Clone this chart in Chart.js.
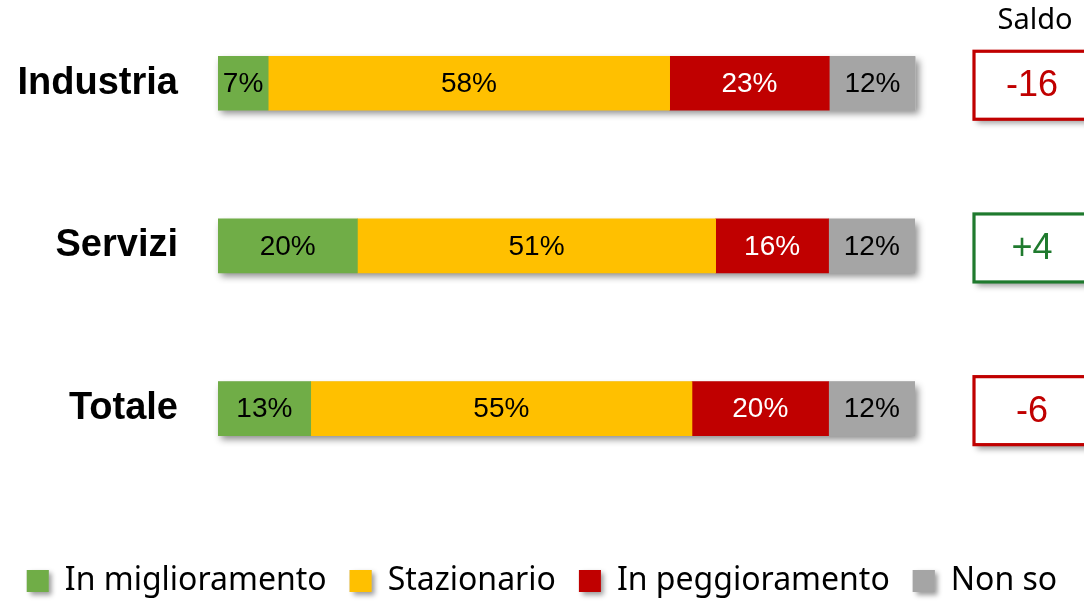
<!DOCTYPE html>
<html>
<head>
<meta charset="utf-8">
<script src="https://cdn.jsdelivr.net/npm/chart.js@4"></script>
<style>
html,body{margin:0;padding:0;background:#fff;}
#wrap{width:1084px;height:603px;position:relative;}
</style>
</head>
<body>
<div id="wrap"><canvas id="c"></canvas></div>
<script>
const categories = ['Industria', 'Servizi', 'Totale'];
const seriesNames = ['In miglioramento', 'Stazionario', 'In peggioramento', 'Non so'];
// segment lengths (percent)
const miglioramento = [7.2, 20.0, 13.3];
const stazionario = [57.6, 51.4, 54.7];
const peggioramento = [22.9, 16.2, 19.6];
const nonSo = [12.4, 12.4, 12.4];
// printed data labels
const miglioramentoLabels = ['7%', '20%', '13%'];
const stazionarioLabels = ['58%', '51%', '55%'];
const peggioramentoLabels = ['23%', '16%', '20%'];
const nonSoLabels = ['12%', '12%', '12%'];
const saldo = [-16, 4, -6];
const saldoTitle = 'Saldo';

const seriesColors = ['#70AD47', '#FFC000', '#C00000', '#A5A5A5'];
const labelColors = ['#000000', '#000000', '#FFFFFF', '#000000'];
const seriesValues = [miglioramento, stazionario, peggioramento, nonSo];
const seriesLabels = [miglioramentoLabels, stazionarioLabels, peggioramentoLabels, nonSoLabels];

const datasets = seriesNames.map((name, i) => ({
  label: name,
  data: seriesValues[i],
  valueLabels: seriesLabels[i],
  backgroundColor: seriesColors[i],
  borderWidth: 0,
  barThickness: 54,
  labelColor: labelColors[i]
}));

const LEGEND_CENTER = 581;
const AREA_BOTTOM = 490;

const barShadow = {
  id: 'barShadow',
  beforeDatasetsDraw(chart) {
    const ctx = chart.ctx;
    const first = chart.getDatasetMeta(0).data;
    const last = chart.getDatasetMeta(chart.data.datasets.length - 1).data;
    ctx.save();
    ctx.shadowColor = 'rgba(0,0,0,0.45)';
    ctx.shadowBlur = 7;
    ctx.shadowOffsetX = 3;
    ctx.shadowOffsetY = 4;
    ctx.fillStyle = '#bbbbbb';
    first.forEach((b, j) => {
      const l = last[j];
      ctx.fillRect(b.base, b.y - b.height / 2, l.x - b.base, b.height);
    });
    ctx.restore();
  }
};

const dataLabels = {
  id: 'dataLabels',
  afterDatasetsDraw(chart) {
    const ctx = chart.ctx;
    ctx.save();
    ctx.font = '28px "Liberation Sans", Arial, sans-serif';
    ctx.textAlign = 'center';
    ctx.textBaseline = 'middle';
    chart.data.datasets.forEach((ds, i) => {
      chart.getDatasetMeta(i).data.forEach((bar, j) => {
        ctx.fillStyle = ds.labelColor;
        ctx.fillText(ds.valueLabels[j], (bar.x + bar.base) / 2, bar.y + 1);
      });
    });
    ctx.restore();
  }
};

const saldoBoxes = {
  id: 'saldoBoxes',
  afterDraw(chart) {
    const ctx = chart.ctx;
    const ca = chart.chartArea;
    const yScale = chart.scales.y;
    const bx = ca.right + 59;
    const cx = ca.right + 117;
    ctx.save();
    ctx.font = '29px "Noto Sans", sans-serif';
    ctx.fillStyle = '#000';
    ctx.textAlign = 'center';
    ctx.textBaseline = 'middle';
    ctx.fillText(saldoTitle, ca.right + 120, 21);
    categories.forEach((c, j) => {
      const y = yScale.getPixelForValue(j) + 2;
      const v = saldo[j];
      const col = v >= 0 ? '#1F7A2E' : '#C00000';
      const h = 68;
      ctx.save();
      ctx.shadowColor = 'rgba(0,0,0,0.4)';
      ctx.shadowBlur = 6;
      ctx.shadowOffsetX = 3;
      ctx.shadowOffsetY = 4;
      ctx.fillStyle = '#fff';
      ctx.fillRect(bx, y - h / 2, 160, h);
      ctx.restore();
      ctx.strokeStyle = col;
      ctx.lineWidth = 3.2;
      ctx.strokeRect(bx, y - h / 2, 160, h);
      ctx.fillStyle = col;
      ctx.font = '36px "Liberation Sans", Arial, sans-serif';
      ctx.fillText((v > 0 ? '+' : '') + v, cx, y + 1);
    });
    ctx.restore();
  }
};

const legendShift = {
  id: 'legendShift',
  afterLayout(chart) {
    const lg = chart.legend;
    if (lg) {
      const p = lg.options.labels.padding;
      const fs = lg.options.labels.font.size;
      const delta = LEGEND_CENTER - (lg.top + p + fs / 2);
      lg.top += delta;
      lg.bottom += delta;
    }
  },
  beforeDraw(chart) {
    const lg = chart.legend;
    if (!lg || !lg.legendHitBoxes) return;
    const lo = lg.options.labels;
    const ctx = chart.ctx;
    ctx.save();
    ctx.shadowColor = 'rgba(0,0,0,0.4)';
    ctx.shadowBlur = 5;
    ctx.shadowOffsetX = 3;
    ctx.shadowOffsetY = 3;
    ctx.fillStyle = '#bbb';
    lg.legendHitBoxes.forEach(hb => {
      const top = hb.top + Math.max((lo.font.size - lo.boxHeight) / 2, 0);
      ctx.fillRect(hb.left, top, lo.boxWidth, lo.boxHeight);
    });
    ctx.restore();
  }
};

new Chart(document.getElementById('c'), {
  type: 'bar',
  data: { labels: categories, datasets },
  plugins: [barShadow, dataLabels, saldoBoxes, legendShift],
  options: {
    indexAxis: 'y',
    responsive: true,
    maintainAspectRatio: false,
    animation: false,
    layout: { padding: 0 },
    scales: {
      x: {
        stacked: true, min: 0, max: 100,
        grid: { display: false }, border: { display: false },
        ticks: { display: false },
        afterFit(s) { s.height = Math.max(0, s.chart.height - AREA_BOTTOM - (s.chart.legend ? s.chart.legend.height : 0)); }
      },
      y: {
        stacked: true,
        grid: { display: false, drawTicks: true, tickLength: 40 }, border: { display: false },
        ticks: {
          padding: 0,
          color: '#000',
          font: { family: '"Liberation Sans", Arial, sans-serif', size: 38, weight: 'bold', lineHeight: 0.1 }
        },
        afterFit(s) { s.width = 218; }
      },
      y2: {
        type: 'category',
        position: 'right',
        grid: { display: false, drawTicks: false }, border: { display: false },
        ticks: { display: false },
        afterFit(s) { s.width = 169; }
      }
    },
    plugins: {
      tooltip: { enabled: false },
      legend: {
        position: 'bottom',
        labels: {
          boxWidth: 22, boxHeight: 22, padding: 23,
          color: '#000',
          font: { family: '"Noto Sans", sans-serif', size: 32 }
        }
      }
    }
  }
});
</script>
</body>
</html>
